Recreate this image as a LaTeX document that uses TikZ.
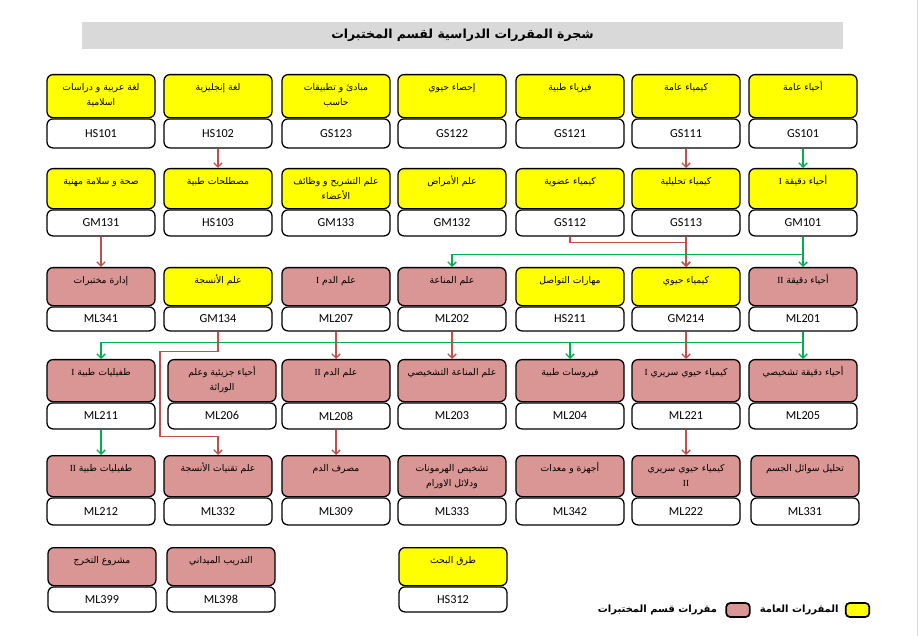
\documentclass[tikz,border=0pt]{standalone}
\usepackage{fontspec}
\usepackage{tikz}
\usetikzlibrary{positioning,arrows.meta}
\TeXXeTstate=1
\newfontfamily\arabicfont[Script=Arabic]{DejaVu Sans}
\newfontfamily\romfont{Liberation Serif}
\newfontfamily\codefont{Carlito}
\definecolor{genylw}{HTML}{FFFF00}
\definecolor{labpink}{HTML}{D99694}
\definecolor{arrred}{HTML}{C0504D}
\definecolor{arrgrn}{HTML}{00B050}
\definecolor{titlegray}{HTML}{D9D9D9}

\begin{document}
\begin{tikzpicture}
  [x=0.025cm, y=-0.025cm, >={Straight Barb[length=3pt,width=6pt]},
   namebox/.style={draw, line width=0.9pt, rounded corners=0.15cm, anchor=north, inner sep=0pt,
     font=\arabicfont\fontsize{6.6}{10.5}\selectfont,
     execute at begin node={\begin{minipage}[c][#1][t]{2.7cm}\centering\vspace*{4pt}\strut},
     execute at end node={\end{minipage}}},
   codebox/.style={draw, fill=white, line width=0.9pt, rounded corners=0.15cm, minimum width=2.7cm,
     minimum height=#1, inner sep=0pt, font=\codefont\fontsize{8.7}{10}\selectfont},
   redarr/.style={->, draw=arrred, line width=1pt},
   grnarr/.style={->, draw=arrgrn, line width=1pt},
   legbox/.style={draw, line width=1.2pt, rounded corners=0.1cm, minimum width=0.59cm,
     minimum height=0.35cm, inner sep=0pt},
   legtxt/.style={font=\arabicfont\bfseries\fontsize{7.1}{9}\selectfont, inner sep=0pt}]
  \useasboundingbox (0,0) rectangle (922,636);
  \draw[titlegray, line width=0.6pt] (917,0) -- (917,636);
  \node[fill=titlegray, minimum width=19.025cm, minimum height=0.675cm, inner sep=0pt,
    font=\arabicfont\bfseries\fontsize{8.9}{11}\selectfont] (title) at (462.5,35.5)
    {\beginR شجرة المقررات الدراسية لقسم المختبرات\endR};

  \node[namebox=1.075cm, fill=genylw] (hs101n) at (101,74) {\beginR لغة عربية و دراسات\endR\\\beginR اسلامية\endR};
  \node[codebox=0.725cm, below=0pt of hs101n] (hs101) {HS101};
  \node[namebox=1.075cm, fill=genylw] (hs102n) at (218,74) {\beginR لغة إنجليزية\endR};
  \node[codebox=0.725cm, below=0pt of hs102n] (hs102) {HS102};
  \node[namebox=1.075cm, fill=genylw] (gs123n) at (336,74) {\beginR مبادئ و تطبيقات\endR\\\beginR حاسب\endR};
  \node[codebox=0.725cm, below=0pt of gs123n] (gs123) {GS123};
  \node[namebox=1.075cm, fill=genylw] (gs122n) at (452,74) {\beginR إحصاء حيوي\endR};
  \node[codebox=0.725cm, below=0pt of gs122n] (gs122) {GS122};
  \node[namebox=1.075cm, fill=genylw] (gs121n) at (570,74) {\beginR فيزياء طبية\endR};
  \node[codebox=0.725cm, below=0pt of gs121n] (gs121) {GS121};
  \node[namebox=1.075cm, fill=genylw] (gs111n) at (686,74) {\beginR كيمياء عامة\endR};
  \node[codebox=0.725cm, below=0pt of gs111n] (gs111) {GS111};
  \node[namebox=1.075cm, fill=genylw] (gs101n) at (803,74) {\beginR أحياء عامة\endR};
  \node[codebox=0.725cm, below=0pt of gs101n] (gs101) {GS101};

  \node[namebox=1.0cm, fill=genylw] (gm131n) at (101,168) {\beginR صحة و سلامة مهنية\endR};
  \node[codebox=0.65cm, below=0pt of gm131n] (gm131) {GM131};
  \node[namebox=1.0cm, fill=genylw] (hs103n) at (218,168) {\beginR مصطلحات طبية\endR};
  \node[codebox=0.65cm, below=0pt of hs103n] (hs103) {HS103};
  \node[namebox=1.0cm, fill=genylw] (gm133n) at (336,168) {\beginR علم التشريح و وظائف\endR\\\beginR الأعضاء\endR};
  \node[codebox=0.65cm, below=0pt of gm133n] (gm133) {GM133};
  \node[namebox=1.0cm, fill=genylw] (gm132n) at (452,168) {\beginR علم الأمراض\endR};
  \node[codebox=0.65cm, below=0pt of gm132n] (gm132) {GM132};
  \node[namebox=1.0cm, fill=genylw] (gs112n) at (570,168) {\beginR كيمياء عضوية\endR};
  \node[codebox=0.65cm, below=0pt of gs112n] (gs112) {GS112};
  \node[namebox=1.0cm, fill=genylw] (gs113n) at (686,168) {\beginR كيمياء تحليلية\endR};
  \node[codebox=0.65cm, below=0pt of gs113n] (gs113) {GS113};
  \node[namebox=1.0cm, fill=genylw] (gm101n) at (803,168) {\beginR أحياء دقيقة {\romfont I}\endR};
  \node[codebox=0.65cm, below=0pt of gm101n] (gm101) {GM101};

  \node[namebox=0.95cm, fill=labpink] (ml341n) at (101,267) {\beginR إدارة مختبرات\endR};
  \node[codebox=0.6cm, below=0pt of ml341n] (ml341) {ML341};
  \node[namebox=0.95cm, fill=genylw] (gm134n) at (218,267) {\beginR علم الأنسجة\endR};
  \node[codebox=0.6cm, below=0pt of gm134n] (gm134) {GM134};
  \node[namebox=0.95cm, fill=labpink] (ml207n) at (336,267) {\beginR علم الدم {\romfont I}\endR};
  \node[codebox=0.6cm, below=0pt of ml207n] (ml207) {ML207};
  \node[namebox=0.95cm, fill=labpink] (ml202n) at (452,267) {\beginR علم المناعة\endR};
  \node[codebox=0.6cm, below=0pt of ml202n] (ml202) {ML202};
  \node[namebox=0.95cm, fill=genylw] (hs211n) at (570,267) {\beginR مهارات التواصل\endR};
  \node[codebox=0.6cm, below=0pt of hs211n] (hs211) {HS211};
  \node[namebox=0.95cm, fill=genylw] (gm214n) at (686,267) {\beginR كيمياء حيوي\endR};
  \node[codebox=0.6cm, below=0pt of gm214n] (gm214) {GM214};
  \node[namebox=0.95cm, fill=labpink] (ml201n) at (803,267) {\beginR أحياء دقيقة {\romfont II}\endR};
  \node[codebox=0.6cm, below=0pt of ml201n] (ml201) {ML201};

  \node[namebox=1.05cm, fill=labpink] (ml211n) at (101,359) {\beginR طفيليات طبية {\romfont I}\endR};
  \node[codebox=0.65cm, below=0pt of ml211n] (ml211) {ML211};
  \node[namebox=1.05cm, fill=labpink] (ml206n) at (222,359) {\beginR أحياء جزيئية وعلم\endR\\\beginR الوراثة\endR};
  \node[codebox=0.65cm, below=0pt of ml206n] (ml206) {ML206};
  \node[namebox=1.05cm, fill=labpink] (ml208n) at (336,359) {\beginR علم الدم {\romfont II}\endR};
  \node[codebox=0.65cm, below=0pt of ml208n] (ml208) {ML208};
  \node[namebox=1.05cm, fill=labpink] (ml203n) at (452,359) {\beginR علم المناعة التشخيصي\endR};
  \node[codebox=0.65cm, below=0pt of ml203n] (ml203) {ML203};
  \node[namebox=1.05cm, fill=labpink] (ml204n) at (570,359) {\beginR فيروسات طبية\endR};
  \node[codebox=0.65cm, below=0pt of ml204n] (ml204) {ML204};
  \node[namebox=1.05cm, fill=labpink] (ml221n) at (686,359) {\beginR كيمياء حيوي سريري {\romfont I}\endR};
  \node[codebox=0.65cm, below=0pt of ml221n] (ml221) {ML221};
  \node[namebox=1.05cm, fill=labpink] (ml205n) at (803,359) {\beginR أحياء دقيقة تشخيصي\endR};
  \node[codebox=0.65cm, below=0pt of ml205n] (ml205) {ML205};

  \node[namebox=1.025cm, fill=labpink] (ml212n) at (101,455) {\beginR طفيليات طبية {\romfont II}\endR};
  \node[codebox=0.675cm, below=0pt of ml212n] (ml212) {ML212};
  \node[namebox=1.025cm, fill=labpink] (ml332n) at (218,455) {\beginR علم تقنيات الأنسجة\endR};
  \node[codebox=0.675cm, below=0pt of ml332n] (ml332) {ML332};
  \node[namebox=1.025cm, fill=labpink] (ml309n) at (336,455) {\beginR مصرف الدم\endR};
  \node[codebox=0.675cm, below=0pt of ml309n] (ml309) {ML309};
  \node[namebox=1.025cm, fill=labpink] (ml333n) at (452,455) {\beginR تشخيص الهرمونات\endR\\\beginR ودلائل الاورام\endR};
  \node[codebox=0.675cm, below=0pt of ml333n] (ml333) {ML333};
  \node[namebox=1.025cm, fill=labpink] (ml342n) at (570,455) {\beginR أجهزة و معدات\endR};
  \node[codebox=0.675cm, below=0pt of ml342n] (ml342) {ML342};
  \node[namebox=1.025cm, fill=labpink] (ml222n) at (686,455) {\beginR كيمياء حيوي سريري\endR\\{\romfont II}};
  \node[codebox=0.675cm, below=0pt of ml222n] (ml222) {ML222};
  \node[namebox=1.025cm, fill=labpink] (ml331n) at (805,455) {\beginR تحليل سوائل الجسم\endR};
  \node[codebox=0.675cm, below=0pt of ml331n] (ml331) {ML331};

  \node[namebox=0.95cm, fill=labpink] (ml399n) at (102,547) {\beginR مشروع التخرج\endR};
  \node[codebox=0.625cm, below=0pt of ml399n] (ml399) {ML399};
  \node[namebox=0.95cm, fill=labpink] (ml398n) at (221,547) {\beginR التدريب الميداني\endR};
  \node[codebox=0.625cm, below=0pt of ml398n] (ml398) {ML398};
  \node[namebox=0.95cm, fill=genylw] (hs312n) at (453,547) {\beginR طرق البحث\endR};
  \node[codebox=0.625cm, below=0pt of hs312n] (hs312) {HS312};

  \draw[redarr] (hs102.south) -- (hs103n.north);
  \draw[redarr] (gs111.south) -- (gs113n.north);
  \draw[grnarr] (gs101.south) -- (gm101n.north);
  \draw[redarr] (gm131.south) -- (ml341n.north);
  \draw[redarr] (gs112.south) -- ++(0,6) -| (gm214n.north);
  \draw[redarr] (gs113.south) -- (gm214n.north);
  \draw[grnarr] (gm101.south) -- ++(0,18) -| (ml202n.north);
  \draw[grnarr] (gm101.south) -- (ml201n.north);
  \draw[grnarr] (ml201.south) -- ++(0,11) -| (ml211n.north);
  \draw[grnarr] (ml201.south) -- ++(0,11) -| (ml204n.north);
  \draw[grnarr] (ml201.south) -- (ml205n.north);
  \draw[redarr] (gm214.south) -- (ml221n.north);
  \draw[redarr] (ml207.south) -- (ml208n.north);
  \draw[redarr] (ml202.south) -- (ml203n.north);
  \draw[redarr] (gm134.south) -- ++(0,20) -- ++(-58,0) -- ++(0,85) -| (ml332n.north);
  \draw[grnarr] (ml211.south) -- (ml212n.north);
  \draw[redarr] (ml208.south) -- (ml309n.north);
  \draw[redarr] (ml221.south) -- (ml222n.north);

  \node[legbox, fill=genylw] (leggen) at (857.5,610) {};
  \node[legtxt, left=0.15cm of leggen] (leggentxt) {\beginR المقررات العامة\endR};
  \node[legbox, fill=labpink] (leglab) at (738,610) {};
  \node[legtxt, left=0.2cm of leglab] (leglabtxt) {\beginR مقررات قسم المختبرات\endR};
\end{tikzpicture}
\end{document}
